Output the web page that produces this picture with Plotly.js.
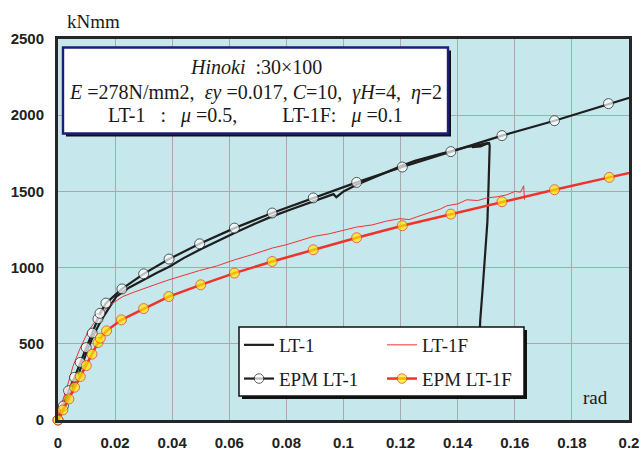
<!DOCTYPE html>
<html><head><meta charset="utf-8">
<script src="https://cdn.plot.ly/plotly-3.0.1.min.js"></script>
<style>html,body{margin:0;padding:0;background:#fff;} #chart{width:644px;height:451px;}</style>
</head><body><div id="chart"></div>
<script>
// ---- data (rotation in rad, moment in kNmm) ----
const lt1X = [0, 0.0023, 0.0052, 0.0075, 0.0099, 0.0122, 0.0152, 0.0181, 0.0204, 0.0250, 0.0298, 0.0345, 0.0391, 0.0440, 0.0496, 0.0555, 0.0618, 0.0680, 0.0750, 0.0820, 0.0894, 0.0930, 0.0965, 0.0975, 0.1000, 0.1046, 0.1100, 0.1150, 0.1206, 0.1250, 0.1304, 0.1340, 0.1376, 0.1410, 0.1432, 0.1455, 0.1479, 0.1495, 0.1508, 0.1480, 0.1450, 0.1490, 0.1510, 0.1512, 0.1511, 0.1508, 0.1504, 0.1497, 0.1488, 0.1479, 0.1470];
const lt1Y = [0, 87, 219, 317, 438, 547, 657, 744, 810, 870, 920, 965, 1007, 1062, 1117, 1172, 1227, 1280, 1336, 1385, 1434, 1458, 1482, 1462, 1500, 1544, 1588, 1625, 1669, 1700, 1730, 1746, 1763, 1780, 1792, 1797, 1807, 1812, 1818, 1795, 1790, 1805, 1816, 1800, 1700, 1533, 1300, 1095, 876, 657, 250];

const lt1fX = [0, 0.0005, 0.0029, 0.0052, 0.0075, 0.0105, 0.0134, 0.0163, 0.0192, 0.0227, 0.0268, 0.0309, 0.0350, 0.0389, 0.0440, 0.0496, 0.0555, 0.0618, 0.0680, 0.0750, 0.0800, 0.0850, 0.0894, 0.0950, 0.1000, 0.1046, 0.1100, 0.1150, 0.1198, 0.1230, 0.1268, 0.1300, 0.1339, 0.1362, 0.1400, 0.1432, 0.1470, 0.1502, 0.1540, 0.1573, 0.1600, 0.1620, 0.1631, 0.1634];
const lt1fY = [0, 66, 197, 350, 460, 580, 657, 723, 767, 810, 840, 865, 895, 920, 950, 981, 1010, 1051, 1085, 1128, 1150, 1180, 1204, 1222, 1245, 1266, 1280, 1305, 1321, 1315, 1340, 1362, 1384, 1406, 1418, 1445, 1440, 1457, 1465, 1478, 1500, 1495, 1537, 1445];

const epm1X = [0, 0.0019, 0.0037, 0.0058, 0.0078, 0.0099, 0.0120, 0.0140, 0.0147, 0.0168, 0.0224, 0.0300, 0.0389, 0.0496, 0.0618, 0.0750, 0.0894, 0.1046, 0.1206, 0.1376, 0.1555, 0.1739, 0.1928, 0.2117];
const epm1Y = [0, 92, 192, 280, 378, 475, 570, 664, 700, 767, 860, 959, 1056, 1156, 1259, 1358, 1457, 1559, 1660, 1761, 1866, 1964, 2076, 2180];

const epm1fX = [0, 0.0017, 0.0038, 0.0058, 0.0078, 0.0099, 0.0119, 0.0140, 0.0148, 0.0170, 0.0222, 0.0300, 0.0388, 0.0500, 0.0618, 0.0750, 0.0894, 0.1046, 0.1206, 0.1376, 0.1555, 0.1739, 0.1931, 0.2117];
const epm1fY = [0, 66, 138, 215, 285, 357, 432, 508, 537, 585, 657, 731, 810, 887, 964, 1040, 1117, 1196, 1275, 1351, 1432, 1511, 1592, 1670];

const xTickVals = [0, 0.02, 0.04, 0.06, 0.08, 0.1, 0.12, 0.14, 0.16, 0.18, 0.2];
const xTickText = ['0', '0.02', '0.04', '0.06', '0.08', '0.1', '0.12', '0.14', '0.16', '0.18', '0.2'];
const yTickVals = [0, 500, 1000, 1500, 2000, 2500];
const yTickText = ['0', '500', '1000', '1500', '2000', '2500'];

// ---- layout helpers (pixel -> paper) ----
const W = 644, H = 451, L = 58, R = 15, T = 39, B = 31;
const pw = W - L - R, ph = H - T - B;
const fx = px => (px - L) / pw;
const fy = py => (H - B - py) / ph;

const serif = 'Liberation Serif, Times New Roman, serif';
const tickFont = {family: 'Liberation Sans Narrow, Arial Narrow, Liberation Sans, Arial, sans-serif', size: 15, weight: 'bold', color: '#222'};

// marker size arrays: last point lies beyond the axis and carries no marker
const sz = arr => arr.map((v, i) => i === arr.length - 1 ? 0 : 10);

const traces = [
  {x: lt1X, y: lt1Y, name: 'LT-1', mode: 'lines', line: {color: '#1e1e1e', width: 2.2}, legend: 'legend', legendgroup: 'a'},
  {x: lt1fX, y: lt1fY, name: 'LT-1F', mode: 'lines', line: {color: '#ee3434', width: 1}, legend: 'legend2', legendgroup: 'c'},
  {x: epm1X, y: epm1Y, name: 'EPM LT-1', mode: 'lines+markers', cliponaxis: false,
   line: {color: '#1e1e1e', width: 2.2},
   marker: {symbol: 'circle', size: sz(epm1X), color: '#ffffff', line: {color: '#1e1e1e', width: 1}},
   legend: 'legend', legendgroup: 'b'},
  {x: epm1fX, y: epm1fY, name: 'EPM LT-1F', mode: 'lines+markers', cliponaxis: false,
   line: {color: '#f0332a', width: 2.5},
   marker: {symbol: 'circle', size: sz(epm1fX), color: '#ffea00', line: {color: '#f0332a', width: 1}},
   legend: 'legend2', legendgroup: 'd'}
];

const legBase = {
  bgcolor: 'rgba(0,0,0,0)', borderwidth: 0,
  font: {family: serif, size: 19, color: '#1a1a1a'},
  xanchor: 'left', yanchor: 'top', traceorder: 'grouped', tracegroupgap: 6,
  orientation: 'v'
};

const boxFont = {family: serif, size: 20, color: '#1a1a1a'};

const layout = {
  width: W, height: H,
  margin: {l: L, r: R, t: T, b: B, pad: 0},
  paper_bgcolor: '#ffffff',
  plot_bgcolor: '#c6e7eb',
  showlegend: true,
  legend: Object.assign({}, legBase, {x: fx(239), y: fy(326)}),
  legend2: Object.assign({}, legBase, {x: fx(382), y: fy(326)}),
  xaxis: {
    range: [0, 0.2], tickvals: xTickVals, ticktext: xTickText,
    showgrid: true, gridcolor: '#a9a9a9', gridwidth: 1, zeroline: false,
    showline: true, linecolor: '#262626', linewidth: 3, mirror: true,
    ticks: '', tickfont: tickFont, ticklabelstandoff: 7, fixedrange: true
  },
  yaxis: {
    range: [0, 2500], tickvals: yTickVals, ticktext: yTickText,
    showgrid: true, gridcolor: '#a9a9a9', gridwidth: 1, zeroline: false,
    showline: true, linecolor: '#262626', linewidth: 3, mirror: true,
    ticks: '', tickfont: tickFont, ticklabelstandoff: 8, fixedrange: true
  },
  shapes: [
    // parameter box: shadow then box
    {type: 'rect', xref: 'paper', yref: 'paper', x0: fx(66), x1: fx(451), y0: fy(136.5), y1: fy(50.5), fillcolor: '#111', line: {width: 0}, layer: 'above'},
    {type: 'rect', xref: 'paper', yref: 'paper', x0: fx(63), x1: fx(448), y0: fy(133.5), y1: fy(47.5), fillcolor: '#ffffff', line: {color: '#1e1e78', width: 2.4}, layer: 'above'},
    // legend box: shadow then box
    {type: 'rect', xref: 'paper', yref: 'paper', x0: fx(242), x1: fx(527), y0: fy(399), y1: fy(330), fillcolor: '#111', line: {width: 0}, layer: 'above'},
    {type: 'rect', xref: 'paper', yref: 'paper', x0: fx(239), x1: fx(524), y0: fy(396), y1: fy(327), fillcolor: '#ffffff', line: {color: '#111', width: 1.5}, layer: 'above'}
  ],
  annotations: [
    {xref: 'paper', yref: 'paper', x: fx(255.5), y: fy(67), xanchor: 'center', yanchor: 'middle', showarrow: false,
     text: '<i>Hinoki</i>\u00a0 :30×100', font: boxFont},
    {xref: 'paper', yref: 'paper', x: fx(255.5), y: fy(92), xanchor: 'center', yanchor: 'middle', showarrow: false,
     text: '<i>E</i> =278N/mm2,\u00a0 <i>εy</i> =0.017, <i>C</i>=10,\u00a0 <i>γH</i>=4,\u00a0 <i>η</i>=2', font: boxFont},
    {xref: 'paper', yref: 'paper', x: fx(255.5), y: fy(115), xanchor: 'center', yanchor: 'middle', showarrow: false,
     text: 'LT-1\u00a0\u00a0 :\u00a0\u00a0 <i>μ</i>\u00a0=0.5,\u00a0\u00a0\u00a0\u00a0\u00a0\u00a0\u00a0\u00a0 LT-1F:\u00a0\u00a0 <i>μ</i>\u00a0=0.1', font: boxFont},
    {xref: 'paper', yref: 'paper', x: fx(65), y: fy(22), xanchor: 'left', yanchor: 'middle', showarrow: false,
     text: 'kNmm', font: {family: serif, size: 19, color: '#1a1a1a'}},
    {xref: 'paper', yref: 'paper', x: fx(595), y: fy(397), xanchor: 'center', yanchor: 'middle', showarrow: false,
     text: 'rad', font: {family: serif, size: 19, color: '#1a1a1a'}}
  ]
};

Plotly.newPlot('chart', traces, layout, {staticPlot: true, displayModeBar: false});
</script>
</body></html>
